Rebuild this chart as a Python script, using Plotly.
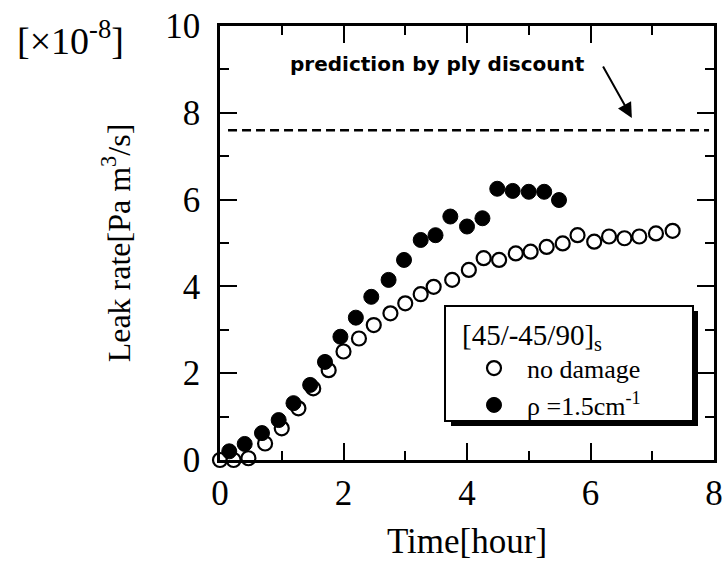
import plotly.graph_objects as go

# ---- data ----
time_nodamage = [0.0, 0.22, 0.46, 0.73, 1.00, 1.27, 1.51, 1.76, 2.00, 2.25, 2.49, 2.76, 3.00,
                 3.25, 3.46, 3.76, 4.03, 4.27, 4.52, 4.79, 5.03, 5.29, 5.55, 5.79, 6.06, 6.30,
                 6.55, 6.79, 7.06, 7.33]
leak_nodamage = [0.0, 0.0, 0.04, 0.38, 0.73, 1.19, 1.65, 2.07, 2.50, 2.80, 3.11, 3.38, 3.61,
                 3.82, 3.99, 4.15, 4.38, 4.65, 4.61, 4.76, 4.80, 4.91, 4.99, 5.18, 5.03, 5.15,
                 5.11, 5.15, 5.22, 5.28]

time_damage = [0.15, 0.40, 0.68, 0.95, 1.19, 1.46, 1.70, 1.95, 2.20, 2.45, 2.73, 2.98, 3.25,
               3.49, 3.73, 4.00, 4.25, 4.49, 4.74, 5.00, 5.25, 5.49]
leak_damage = [0.20, 0.37, 0.62, 0.92, 1.31, 1.73, 2.26, 2.84, 3.28, 3.76, 4.15, 4.61, 5.07,
               5.18, 5.61, 5.38, 5.57, 6.25, 6.20, 6.18, 6.18, 5.99]

pred_time = [0.13, 7.92]
pred_value = 7.6

x_ticks = [0, 2, 4, 6, 8]
y_ticks = [0, 2, 4, 6, 8, 10]

serif = "Liberation Serif"
sans = "DejaVu Sans"

fig = go.Figure()

fig.add_trace(go.Scatter(
    x=pred_time, y=[pred_value] * len(pred_time), mode="lines",
    line=dict(color="black", width=2.5, dash="9px,5px"), showlegend=False, hoverinfo="skip"))

fig.add_trace(go.Scatter(
    x=time_nodamage, y=leak_nodamage, mode="markers", name="  no damage",
    marker=dict(symbol="circle", size=14, color="white", line=dict(color="black", width=2.2)),
    cliponaxis=False))

fig.add_trace(go.Scatter(
    x=time_damage, y=leak_damage, mode="markers", name="  \u03c1 =1.5cm<sup>-1</sup>",
    marker=dict(symbol="circle", size=15, color="black", line=dict(color="black", width=1)),
    cliponaxis=False))

# plot area pixel geometry helpers (for legend box / corner label)
L, R, T, B = 220, 11, 26, 109
W, H = 725 - L - R, 569 - T - B

def px_x(p):
    return (p - L) / W

def px_y(p):
    return (569 - B - p) / H

# legend box with drop shadow
fig.add_shape(type="rect", xref="paper", yref="paper",
              x0=px_x(451), x1=px_x(698), y0=px_y(426), y1=px_y(311),
              fillcolor="black", line=dict(width=0), layer="above")
fig.add_shape(type="rect", xref="paper", yref="paper",
              x0=px_x(445), x1=px_x(693), y0=px_y(421), y1=px_y(306),
              fillcolor="white", line=dict(color="black", width=2), layer="above")

fig.add_annotation(
    x=3.52, y=9.12, xref="x", yref="y", text="<b>prediction by ply discount</b>",
    showarrow=False, font=dict(family=sans, size=20, color="black"))
fig.add_annotation(
    x=6.67, y=7.88, ax=6.19, ay=9.1, xref="x", yref="y", axref="x", ayref="y",
    text="", showarrow=True, arrowhead=2, arrowsize=1.5, arrowwidth=2, arrowcolor="black")

fig.add_annotation(
    x=px_x(70), y=px_y(38), xref="paper", yref="paper", xanchor="center", yanchor="middle",
    text="[\u00d710<sup>-8</sup>]",
    showarrow=False, font=dict(family=serif, size=38, color="black"))

fig.update_layout(
    width=725, height=569,
    margin=dict(l=L, r=R, t=T, b=B),
    paper_bgcolor="white", plot_bgcolor="white",
    font=dict(family=serif, color="black", size=30),
    legend=dict(
        x=px_x(460), y=px_y(307), xanchor="left", yanchor="top",
        bgcolor="rgba(0,0,0,0)", borderwidth=0,
        title=dict(text="[45/-45/90]<sub>s</sub>", font=dict(family=serif, size=29)),
        font=dict(family=serif, size=26), tracegroupgap=0, itemsizing="trace",
        indentation=14),
    xaxis=dict(
        range=[0, 8], tickvals=x_ticks, ticktext=[str(v) for v in x_ticks],
        ticks="inside", ticklen=17, tickwidth=2, tickcolor="black",
        minor=dict(dtick=1, ticks="inside", ticklen=9, tickwidth=2, tickcolor="black"),
        showline=True, linewidth=2.5, linecolor="black", mirror="ticks",
        showgrid=False, zeroline=False, automargin=False, ticklabelstandoff=0,
        tickfont=dict(size=35), title=dict(text="Time[hour]", font=dict(size=35), standoff=17)),
    yaxis=dict(
        range=[0, 10], tickvals=y_ticks, ticktext=[str(v) for v in y_ticks],
        ticks="inside", ticklen=17, tickwidth=2, tickcolor="black",
        minor=dict(dtick=1, ticks="inside", ticklen=9, tickwidth=2, tickcolor="black"),
        showline=True, linewidth=2.5, linecolor="black", mirror="ticks",
        showgrid=False, zeroline=False, automargin=False, ticklabelstandoff=10,
        tickfont=dict(size=35),
        title=dict(text="Leak rate[Pa m<sup>3</sup>/s]", font=dict(size=32), standoff=26)),
)

fig.write_html("out.html")
